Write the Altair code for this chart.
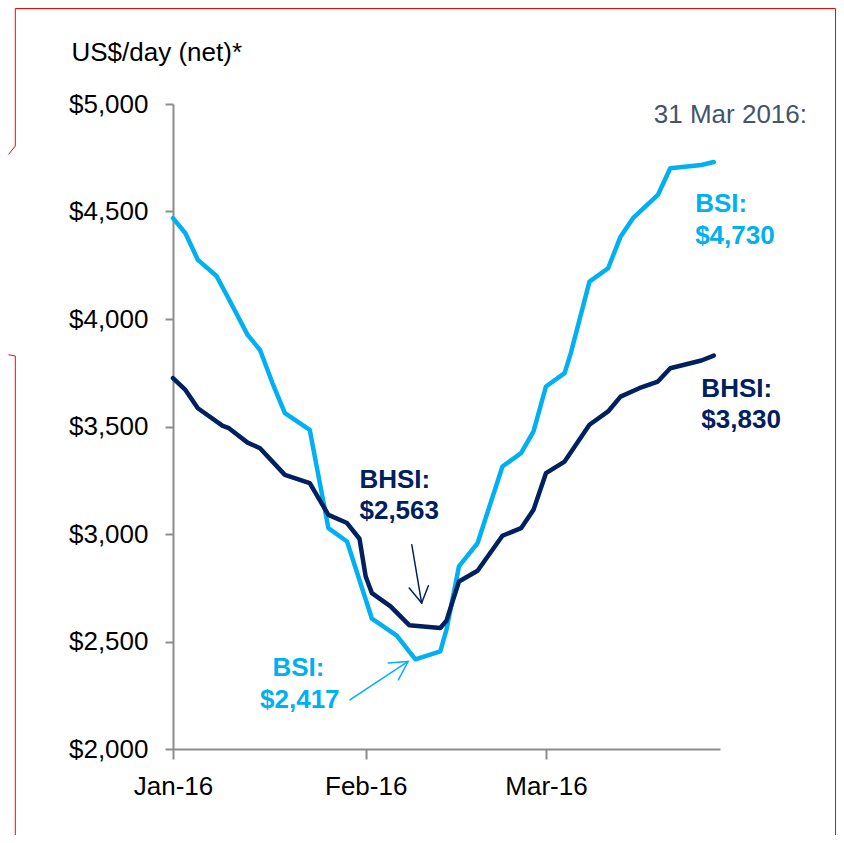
import altair as alt
import pandas as pd

# ---------------- data ----------------
bsi_dates = ["2016-01-01", "2016-01-03", "2016-01-05", "2016-01-08", "2016-01-10",
             "2016-01-13", "2016-01-15", "2016-01-17", "2016-01-19", "2016-01-23",
             "2016-01-26", "2016-01-29", "2016-02-02", "2016-02-06", "2016-02-09",
             "2016-02-13", "2016-02-14", "2016-02-16", "2016-02-19", "2016-02-23",
             "2016-02-26", "2016-02-28", "2016-03-01", "2016-03-04", "2016-03-05",
             "2016-03-08", "2016-03-11", "2016-03-13", "2016-03-15", "2016-03-19",
             "2016-03-21", "2016-03-26", "2016-03-28"]
bsi_values = [4469, 4399, 4275, 4200, 4092, 3926, 3856, 3702, 3562, 3484,
              3027, 2965, 2606, 2527, 2417, 2454, 2555, 2849, 2958, 3314,
              3376, 3477, 3686, 3748, 3841, 4174, 4236, 4383, 4469, 4577,
              4701, 4716, 4730]

bhsi_dates = ["2016-01-01", "2016-01-03", "2016-01-05", "2016-01-09", "2016-01-10",
              "2016-01-13", "2016-01-15", "2016-01-19", "2016-01-23", "2016-01-26",
              "2016-01-29", "2016-01-31", "2016-02-01", "2016-02-02", "2016-02-05",
              "2016-02-08", "2016-02-13", "2016-02-14", "2016-02-16", "2016-02-19",
              "2016-02-23", "2016-02-26", "2016-02-28", "2016-03-01", "2016-03-04",
              "2016-03-08", "2016-03-11", "2016-03-13", "2016-03-16", "2016-03-19",
              "2016-03-21", "2016-03-26", "2016-03-28"]
bhsi_values = [3725, 3670, 3585, 3503, 3492, 3425, 3399, 3275, 3237, 3089,
               3051, 2978, 2802, 2725, 2663, 2576, 2563, 2597, 2779, 2829,
               2992, 3027, 3113, 3283, 3337, 3508, 3570, 3639, 3678, 3709,
               3771, 3807, 3830]

series_names = ["BSI", "BHSI"]
y_ticks = [2000, 2500, 3000, 3500, 4000, 4500, 5000]
x_tick_months = [1, 2, 3]

# annotation texts anchored in data space (date, value)
bsi_note_dates = ["2016-03-25", "2016-03-25", "2016-01-17", "2016-01-15"]
bsi_note_values = [4497, 4349, 2341, 2191]
bsi_note_texts = ["BSI:", "$4,730", "BSI:", "$2,417"]

bhsi_note_dates = ["2016-03-26", "2016-03-26", "2016-01-31", "2016-01-31"]
bhsi_note_values = [3639, 3491, 3213, 3071]
bhsi_note_texts = ["BHSI:", "$3,830", "BHSI:", "$2,563"]

date_note_dates = ["2016-04-12"]
date_note_values = [4913]
date_note_texts = ["31 Mar 2016:"]

# arrows (shaft + two head strokes) pointing at the two troughs
bsi_arrow_from = ["2016-01-29T11:00:00Z", "2016-02-04T15:00:00Z", "2016-02-06T06:00:00Z"]
bsi_arrow_from_v = [2229, 2400, 2322]
bsi_arrow_tip = "2016-02-07T20:00:00Z"
bsi_arrow_tip_v = 2407

bhsi_arrow_from = ["2016-02-08T10:00:00Z", "2016-02-08T00:00:00Z", "2016-02-11T02:00:00Z"]
bhsi_arrow_from_v = [2950, 2749, 2759]
bhsi_arrow_tip = "2016-02-10T00:00:00Z"
bhsi_arrow_tip_v = 2679

# ---------------- styling ----------------
FONT = "Liberation Sans"
LIGHT = "#00B0F0"
NAVY = "#002060"
GRAY = "#8C8C8C"
NOTE_GRAY = "#44546A"
W, H = 547, 645
PAD = {"left": 165, "top": 96, "right": 116, "bottom": 86}

lines_df = pd.DataFrame({
    "date": bsi_dates + bhsi_dates,
    "value": bsi_values + bhsi_values,
    "series": ["BSI"] * len(bsi_dates) + ["BHSI"] * len(bhsi_dates),
})

x_scale = alt.Scale(
    type="utc",
    domain=[alt.DateTime(year=2016, month=1, date=1, utc=True),
            alt.DateTime(year=2016, month=3, date=29, utc=True)],
    nice=False,
)
y_scale = alt.Scale(domain=[2000, 5000], nice=False, zero=False)

x_axis = alt.Axis(
    values=[alt.DateTime(year=2016, month=m, date=1, utc=True) for m in x_tick_months],
    labelExpr="utcFormat(datum.value, '%b-%y')",
    title=None, grid=False,
    domainColor=GRAY, domainWidth=2,
    tickColor=GRAY, tickWidth=2, tickSize=10,
    labelFont=FONT, labelFontSize=26, labelFontWeight="normal", labelColor="black",
    labelPadding=14, labelFlush=False, labelOverlap=False,
)
y_axis = alt.Axis(
    values=y_ticks, format="$,.0f",
    title="US$/day (net)*", titleAngle=0, titleAlign="left",
    titleBaseline="alphabetic", titleX=-102, titleY=-43.5,
    titleFont=FONT, titleFontSize=26, titleFontWeight="normal", titleColor="black",
    grid=False,
    domainColor=GRAY, domainWidth=2,
    tickColor=GRAY, tickWidth=2, tickSize=8,
    labelFont=FONT, labelFontSize=26, labelFontWeight="normal", labelColor="black",
    labelPadding=17, labelOverlap=False,
)

lines = alt.Chart(lines_df).mark_line(
    strokeWidth=4.5, strokeJoin="round", strokeCap="round"
).encode(
    x=alt.X("date:T", scale=x_scale, axis=x_axis),
    y=alt.Y("value:Q", scale=y_scale, axis=y_axis),
    color=alt.Color("series:N",
                    scale=alt.Scale(domain=series_names, range=[LIGHT, NAVY]),
                    legend=None),
)


def notes(dates, values, texts, color, weight, align):
    df = pd.DataFrame({"date": dates, "value": values, "text": texts})
    return alt.Chart(df).mark_text(
        font=FONT, fontSize=26, fontWeight=weight, color=color,
        align=align, baseline="alphabetic",
    ).encode(
        x=alt.X("date:T", scale=x_scale),
        y=alt.Y("value:Q", scale=y_scale),
        text="text:N",
    )


def arrow(froms, from_vals, tip, tip_val, color):
    df = pd.DataFrame({
        "date": froms, "value": from_vals,
        "date2": [tip] * len(froms), "value2": [tip_val] * len(froms),
    })
    return alt.Chart(df).mark_rule(color=color, strokeWidth=1.5, strokeCap="round").encode(
        x=alt.X("date:T", scale=x_scale),
        y=alt.Y("value:Q", scale=y_scale),
        x2="date2:T",
        y2="value2:Q",
    )


# thin red frame of the source slide (decoration, pixel offsets from plot origin)
frame_segments = [
    (-157.7, -95.5, 662.5, -95.5),
    (-157.7, -95.5, -157.7, 42.0),
    (-157.7, 42.0, -164.5, 50.4),
    (-164.5, 250.7, -157.7, 252.0),
    (-157.7, 252.0, -157.7, 731.0),
    (662.5, -95.5, 662.5, 731.0),
]
one_row = pd.DataFrame({"k": [0]})
frame_layers = [
    alt.Chart(one_row).mark_rule(color="#FF0000", strokeWidth=1).encode(
        x=alt.value(a), y=alt.value(b), x2=alt.value(c), y2=alt.value(d)
    )
    for a, b, c, d in frame_segments
]

chart = alt.layer(
    lines,
    notes(bsi_note_dates, bsi_note_values, bsi_note_texts, LIGHT, "bold", "left"),
    notes(bhsi_note_dates, bhsi_note_values, bhsi_note_texts, NAVY, "bold", "left"),
    notes(date_note_dates, date_note_values, date_note_texts, NOTE_GRAY, "normal", "right"),
    arrow(bsi_arrow_from, bsi_arrow_from_v, bsi_arrow_tip, bsi_arrow_tip_v, LIGHT),
    arrow(bhsi_arrow_from, bhsi_arrow_from_v, bhsi_arrow_tip, bhsi_arrow_tip_v, NAVY),
    *frame_layers,
).properties(
    width=W, height=H,
    padding=PAD,
    autosize=alt.AutoSizeParams(type="none"),
    background="white",
).configure(
    font=FONT,
).configure_view(
    strokeWidth=0,
)

chart.save("out.html", embed_options={"renderer": "svg", "actions": False})
